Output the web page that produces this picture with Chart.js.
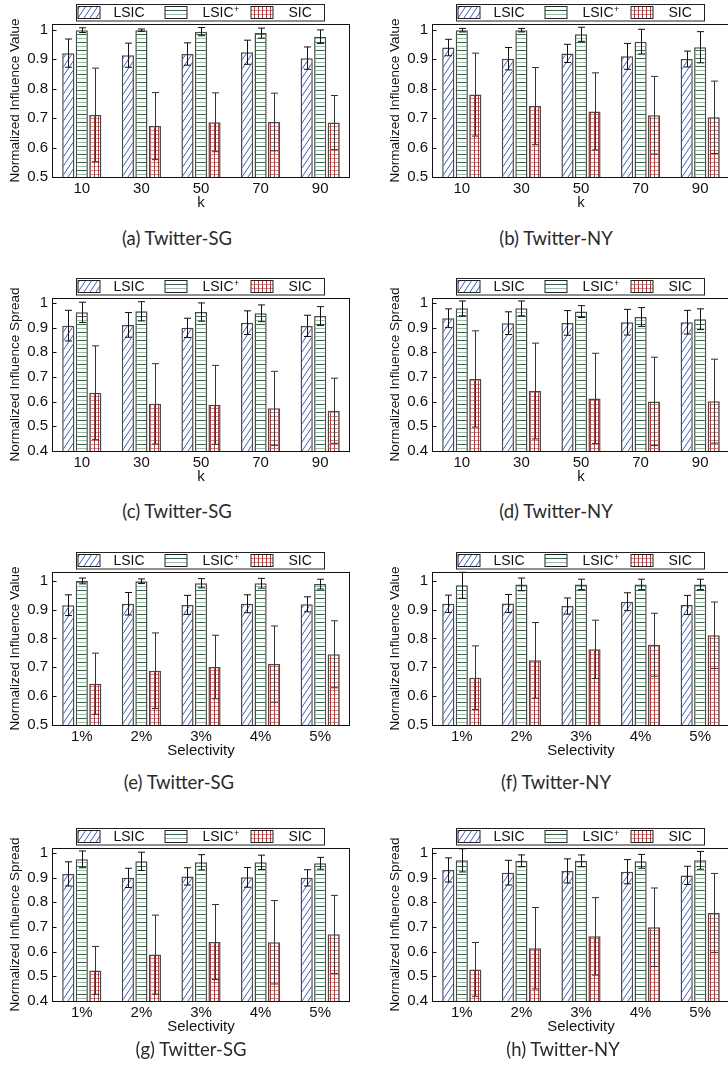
<!DOCTYPE html>
<html>
<head>
<meta charset="utf-8">
<script src="https://cdn.jsdelivr.net/npm/chart.js@4.4.1/dist/chart.umd.min.js"></script>
<style>
  html, body { margin: 0; padding: 0; background: #fff; }
  body { width: 728px; height: 1076px; position: relative; overflow: hidden; }
  .panel { position: absolute; }
  .caption { position: absolute; width: 300px; text-align: center; font-family: Lato, "Noto Sans", sans-serif; font-size: 18.5px; line-height: 22px; color: #2a2a2a; }
</style>
</head>
<body>
<script>
// category labels
const kLabels = ['10', '30', '50', '70', '90']
const selLabels = ['1%', '2%', '3%', '4%', '5%']

// (a) Twitter-SG, influence value vs k
const a_lsic = [0.921, 0.914, 0.918, 0.924, 0.904]
const a_lsic_err = [0.048, 0.041, 0.038, 0.041, 0.038]
const a_plus = [0.999, 0.999, 0.994, 0.989, 0.977]
const a_plus_err = [0.008, 0.004, 0.014, 0.017, 0.023]
const a_sic = [0.711, 0.673, 0.686, 0.687, 0.685]
const a_sic_err = [0.159, 0.114, 0.100, 0.098, 0.092]

// (b) Twitter-NY, influence value vs k
const b_lsic = [0.940, 0.902, 0.920, 0.910, 0.901]
const b_lsic_err = [0.028, 0.038, 0.031, 0.044, 0.027]
const b_plus = [0.999, 0.999, 0.985, 0.960, 0.941]
const b_plus_err = [0.006, 0.006, 0.024, 0.042, 0.053]
const b_sic = [0.780, 0.741, 0.723, 0.710, 0.703]
const b_sic_err = [0.141, 0.131, 0.131, 0.132, 0.123]

// (c) Twitter-SG, influence spread vs k
const c_lsic = [0.908, 0.911, 0.899, 0.920, 0.907]
const c_lsic_err = [0.062, 0.050, 0.039, 0.048, 0.043]
const c_plus = [0.962, 0.966, 0.963, 0.958, 0.947]
const c_plus_err = [0.041, 0.039, 0.037, 0.034, 0.038]
const c_sic = [0.636, 0.591, 0.587, 0.573, 0.563]
const c_sic_err = [0.190, 0.163, 0.160, 0.150, 0.132]

// (d) Twitter-NY, influence spread vs k
const d_lsic = [0.938, 0.918, 0.919, 0.922, 0.922]
const d_lsic_err = [0.038, 0.046, 0.050, 0.052, 0.048]
const d_plus = [0.978, 0.978, 0.965, 0.943, 0.934]
const d_plus_err = [0.030, 0.030, 0.024, 0.038, 0.042]
const d_sic = [0.692, 0.643, 0.613, 0.601, 0.602]
const d_sic_err = [0.195, 0.194, 0.183, 0.179, 0.170]

// (e) Twitter-SG, influence value vs selectivity
const e_lsic = [0.915, 0.920, 0.916, 0.920, 0.918]
const e_lsic_err = [0.036, 0.039, 0.033, 0.031, 0.026]
const e_plus = [0.999, 0.998, 0.991, 0.991, 0.988]
const e_plus_err = [0.010, 0.008, 0.016, 0.017, 0.017]
const e_sic = [0.643, 0.688, 0.701, 0.711, 0.745]
const e_sic_err = [0.106, 0.131, 0.110, 0.132, 0.116]

// (f) Twitter-NY, influence value vs selectivity
const f_lsic = [0.920, 0.921, 0.912, 0.927, 0.916]
const f_lsic_err = [0.030, 0.031, 0.028, 0.031, 0.033]
const f_plus = [0.984, 0.987, 0.987, 0.987, 0.987]
const f_plus_err = [0.045, 0.022, 0.018, 0.018, 0.018]
const f_sic = [0.664, 0.724, 0.762, 0.778, 0.811]
const f_sic_err = [0.110, 0.131, 0.101, 0.109, 0.115]

// (g) Twitter-SG, influence spread vs selectivity
const g_lsic = [0.915, 0.899, 0.905, 0.901, 0.899]
const g_lsic_err = [0.049, 0.039, 0.035, 0.040, 0.033]
const g_plus = [0.974, 0.966, 0.962, 0.962, 0.958]
const g_plus_err = [0.034, 0.037, 0.031, 0.029, 0.024]
const g_sic = [0.524, 0.588, 0.639, 0.638, 0.670]
const g_sic_err = [0.097, 0.160, 0.152, 0.169, 0.158]

// (h) Twitter-NY, influence spread vs selectivity
const h_lsic = [0.931, 0.920, 0.927, 0.924, 0.909]
const h_lsic_err = [0.049, 0.050, 0.049, 0.049, 0.037]
const h_plus = [0.970, 0.968, 0.968, 0.966, 0.970]
const h_plus_err = [0.047, 0.024, 0.024, 0.028, 0.036]
const h_sic = [0.528, 0.614, 0.662, 0.699, 0.757]
const h_sic_err = [0.109, 0.165, 0.157, 0.159, 0.160]

const panels = [
  { row: 0, col: 0, cap: '(a) Twitter-SG', labels: kLabels, xTitle: 'k', yTitle: 'Normalized Influence Value', min: 0.5, max: 1.02,
    sets: [[a_lsic, a_lsic_err], [a_plus, a_plus_err], [a_sic, a_sic_err]] },
  { row: 0, col: 1, cap: '(b) Twitter-NY', labels: kLabels, xTitle: 'k', yTitle: 'Normalized Influence Value', min: 0.5, max: 1.02,
    sets: [[b_lsic, b_lsic_err], [b_plus, b_plus_err], [b_sic, b_sic_err]] },
  { row: 1, col: 0, cap: '(c) Twitter-SG', labels: kLabels, xTitle: 'k', yTitle: 'Normalized Influence Spread', min: 0.4, max: 1.02,
    sets: [[c_lsic, c_lsic_err], [c_plus, c_plus_err], [c_sic, c_sic_err]] },
  { row: 1, col: 1, cap: '(d) Twitter-NY', labels: kLabels, xTitle: 'k', yTitle: 'Normalized Influence Spread', min: 0.4, max: 1.02,
    sets: [[d_lsic, d_lsic_err], [d_plus, d_plus_err], [d_sic, d_sic_err]] },
  { row: 2, col: 0, cap: '(e) Twitter-SG', labels: selLabels, xTitle: 'Selectivity', yTitle: 'Normalized Influence Value', min: 0.5, max: 1.03,
    sets: [[e_lsic, e_lsic_err], [e_plus, e_plus_err], [e_sic, e_sic_err]] },
  { row: 2, col: 1, cap: '(f) Twitter-NY', labels: selLabels, xTitle: 'Selectivity', yTitle: 'Normalized Influence Value', min: 0.5, max: 1.03,
    sets: [[f_lsic, f_lsic_err], [f_plus, f_plus_err], [f_sic, f_sic_err]] },
  { row: 3, col: 0, cap: '(g) Twitter-SG', labels: selLabels, xTitle: 'Selectivity', yTitle: 'Normalized Influence Spread', min: 0.4, max: 1.02,
    sets: [[g_lsic, g_lsic_err], [g_plus, g_plus_err], [g_sic, g_sic_err]] },
  { row: 3, col: 1, cap: '(h) Twitter-NY', labels: selLabels, xTitle: 'Selectivity', yTitle: 'Normalized Influence Spread', min: 0.4, max: 1.02,
    sets: [[h_lsic, h_lsic_err], [h_plus, h_plus_err], [h_sic, h_sic_err]] },
]

// even offsets keep the 1px pattern lines on even pixels
const rowTop = [0, 274, 548, 824]
const colLeft = [0, 380]
const capY = [227, 500, 771, 1038]
const capX = [[177, 556], [177, 556], [179, 556], [191, 563]]

Chart.defaults.font.family = '"Liberation Sans", Arial, sans-serif'
Chart.defaults.color = '#111'

// fill patterns for the three series, made on the chart's own context
function makePattern(ctx, kind) {
  const c = document.createElement('canvas')
  c.width = 24; c.height = 24
  const g = c.getContext('2d')
  g.fillStyle = '#ffffff'
  g.fillRect(0, 0, 24, 24)
  if (kind === 'diag') {
    // "/" lines, 6px apart horizontally
    c.width = 12; c.height = 18
    g.fillStyle = '#ffffff'; g.fillRect(0, 0, 12, 18)
    g.strokeStyle = '#3b5cc0'; g.lineWidth = 1
    g.beginPath()
    for (const dx of [-12, -6, 0, 6, 12]) { g.moveTo(dx, 18); g.lineTo(dx + 12, 0) }
    g.stroke()
  } else if (kind === 'horiz') {
    for (let yy = 0; yy < 24; yy += 8) {
      g.fillStyle = '#137a37'; g.fillRect(0, yy + 2, 24, 1)
      g.fillStyle = '#8ac79e'; g.fillRect(0, yy + 6, 24, 1)
    }
  } else {
    for (let k = 0; k < 24; k += 4) {
      g.fillStyle = '#f27878'; g.fillRect(0, k + 2, 24, 1)
    }
    for (let k = 0; k < 24; k += 4) {
      g.fillStyle = '#e42424'; g.fillRect(k + 2, 0, 1, 24)
    }
  }
  return ctx.createPattern(c, 'repeat')
}
const names = ['LSIC', 'LSIC', 'SIC']

const errorBars = {
  id: 'errorBars',
  afterDatasetsDraw(chart) {
    const { ctx, scales: { y } } = chart
    ctx.save()
    ctx.lineWidth = 1
    chart.data.datasets.forEach((ds, i) => {
      ctx.strokeStyle = i === 2 ? '#333' : '#111'
      chart.getDatasetMeta(i).data.forEach((bar, j) => {
        const v = ds.data[j], e = ds.err[j]
        const x = Math.round(bar.x) + 0.5
        const hi = y.getPixelForValue(v + e), lo = y.getPixelForValue(v - e)
        ctx.beginPath()
        ctx.moveTo(x, hi); ctx.lineTo(x, lo)
        ctx.moveTo(x - 3.5, hi); ctx.lineTo(x + 3.5, hi)
        ctx.moveTo(x - 3.5, lo); ctx.lineTo(x + 3.5, lo)
        ctx.stroke()
      })
    })
    ctx.restore()
  }
}

const frame = {
  id: 'frame',
  afterDatasetsDraw(chart) {
    const { ctx, chartArea: a, scales: { y } } = chart
    ctx.save()
    ctx.strokeStyle = '#111'
    ctx.lineWidth = 1
    const l = Math.round(a.left) + 0.5, t = Math.round(a.top) + 0.5
    const r = Math.round(a.right) - 0.5, b = Math.round(a.bottom) + 0.5
    ctx.strokeRect(l, t, r - l, b - t)
    ctx.beginPath()
    y.ticks.forEach(tk => {
      const py = Math.round(y.getPixelForValue(tk.value)) + 0.5
      ctx.moveTo(l, py); ctx.lineTo(l + 4, py)
    })
    ctx.stroke()
    ctx.restore()
  }
}

const keyBox = {
  id: 'keyBox',
  afterDraw(chart) {
    const { ctx, chartArea: a } = chart
    const fills = chart.data.datasets.map(d => d.backgroundColor)
    const left = Math.round(a.left) + 24.5, top = Math.round(a.top) - 19.5
    const w = 248, h = 16.5
    ctx.save()
    ctx.fillStyle = '#fff'
    ctx.fillRect(left, top, w, h)
    ctx.strokeStyle = '#222'
    ctx.lineWidth = 1
    ctx.strokeRect(left, top, w, h)
    const sw = [1, 88, 174], tx = [37, 126, 212]
    ctx.textBaseline = 'middle'
    ctx.textAlign = 'left'
    for (let i = 0; i < 3; i++) {
      ctx.fillStyle = fills[i]
      ctx.fillRect(left + sw[i] + 0.5, top + 2, 22, 12)
      ctx.strokeStyle = '#222'
      ctx.strokeRect(left + sw[i] + 0.5, top + 2, 22, 12)
      ctx.fillStyle = '#111'
      ctx.font = '14px "Liberation Sans", Arial, sans-serif'
      ctx.fillText(names[i], left + tx[i], top + h / 2 + 0.5)
      if (i === 1) {
        const tw = ctx.measureText(names[i]).width
        ctx.font = '9px "Liberation Sans", Arial, sans-serif'
        ctx.fillText('+', left + tx[i] + tw + 0.5, top + h / 2 - 3.5)
      }
    }
    ctx.restore()
  }
}

panels.forEach(p => {
  const div = document.createElement('div')
  div.className = 'panel'
  div.style.left = colLeft[p.col] + 'px'
  div.style.top = rowTop[p.row] + 'px'
  const canvas = document.createElement('canvas')
  canvas.width = 370
  canvas.height = 215
  div.appendChild(canvas)
  document.body.appendChild(div)

  const cap = document.createElement('div')
  cap.className = 'caption'
  cap.textContent = p.cap
  cap.style.left = (capX[p.row][p.col] - 150) + 'px'
  cap.style.top = (capY[p.row]) + 'px'
  document.body.appendChild(cap)

  const ctx = canvas.getContext('2d')
  const fills = [makePattern(ctx, 'diag'), makePattern(ctx, 'horiz'), makePattern(ctx, 'grid')]

  new Chart(ctx, {
    type: 'bar',
    data: {
      labels: p.labels,
      datasets: p.sets.map((s, i) => ({
        label: names[i] + (i === 1 ? '+' : ''),
        data: s[0],
        err: s[1],
        backgroundColor: fills[i],
        borderColor: '#4a4a4a',
        borderWidth: 1.5,
        categoryPercentage: 0.68,
        barPercentage: 0.9
      }))
    },
    options: {
      responsive: false,
      animation: false,
      layout: { padding: { top: 24, right: 20, left: 0, bottom: 0 } },
      plugins: { legend: { display: false }, tooltip: { enabled: false } },
      scales: {
        x: {
          grid: { display: false, drawTicks: false },
          border: { display: false },
          ticks: { font: { size: 15 }, padding: 3 },
          title: { display: true, text: p.xTitle, font: { size: 15 }, padding: { top: 0, bottom: 3 } },
          afterFit: s => { s.height = 38 }
        },
        y: {
          min: p.min,
          max: p.max,
          grid: { display: false, drawTicks: false },
          border: { display: false },
          ticks: { stepSize: 0.1, includeBounds: false, padding: 4, font: { size: 15 },
            callback: v => String(+v.toFixed(1)) },
          title: { display: true, text: p.yTitle, font: { size: 13.5 }, padding: { top: 7, bottom: 0 } },
          afterFit: s => { s.width = 52 }
        }
      }
    },
    plugins: [errorBars, frame, keyBox]
  })
})
</script>
</body>
</html>
